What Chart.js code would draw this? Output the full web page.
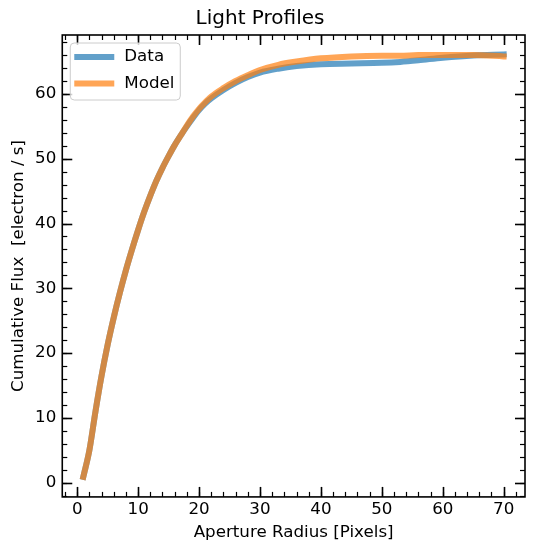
<!DOCTYPE html>
<html>
<head>
<meta charset="utf-8">
<script src="https://cdn.jsdelivr.net/npm/chart.js@4/dist/chart.umd.min.js"></script>
<style>
    html, body { margin: 0; padding: 0; background: #fff; }
    canvas { display: block; }
</style>
</head>
<body>
<canvas id="profileChart" width="534" height="551"></canvas>
<script>
// Aperture radius (pixels) and cumulative flux
const radius = [1, 2, 3, 4, 5, 6, 7, 8, 9, 10, 11, 12, 13, 14, 15, 16, 17, 18, 19, 20,
    21, 22, 24, 26, 28, 30, 33, 36, 40, 45, 50, 53, 56, 60, 65, 70];
const dataFlux = [0.9, 5.0, 11.0, 16.5, 21.3, 25.5, 29.3, 32.8, 36.0, 39.0, 41.8, 44.3, 46.6, 48.6, 50.4, 52.1, 53.6, 55.0, 56.3, 57.5,
    58.5, 59.3, 60.6, 61.7, 62.6, 63.3, 63.9, 64.3, 64.6, 64.7, 64.8, 64.95, 65.2, 65.6, 65.95, 66.1];
const modelFlux = [0.9, 5.0, 11.0, 16.5, 21.3, 25.5, 29.3, 32.8, 36.0, 39.0, 41.8, 44.3, 46.6, 48.6, 50.4, 52.1, 53.6, 55.1, 56.5, 57.7,
    58.7, 59.6, 60.9, 62.0, 62.9, 63.7, 64.5, 65.0, 65.5, 65.8, 65.9, 65.9, 66.0, 66.0, 66.0, 65.8];
const seriesLabels = ['Data', 'Model'];

// tick spacing, matplotlib style
const majorStep = 10;
const minorStep = 2;

Chart.defaults.font.family = "'DejaVu Sans', sans-serif";
Chart.defaults.color = '#000';

// Inward ticks on all four sides plus the box and an in-plot legend
const frameTicks = {
    id: 'frameTicks',
    afterDraw(chart) {
        const { ctx, chartArea: a, scales: { x, y } } = chart;
        ctx.save();
        ctx.strokeStyle = '#000';
        const seg = (x1, y1, x2, y2) => {
            ctx.beginPath();
            ctx.moveTo(x1, y1);
            ctx.lineTo(x2, y2);
            ctx.stroke();
        };
        const tickSet = (scale, step) => {
            const out = [];
            for (let v = Math.ceil(scale.min / step) * step; v <= scale.max; v += step) out.push(v);
            return out;
        };

        [[minorStep, 5, 1.2], [majorStep, 10, 1.6]].forEach(([step, len, w]) => {
            ctx.lineWidth = w;
            tickSet(x, step).forEach(v => {
                const px = Math.round(x.getPixelForValue(v)) + 0.5;
                seg(px, a.bottom, px, a.bottom - len);
                seg(px, a.top, px, a.top + len);
            });
            tickSet(y, step).forEach(v => {
                const py = Math.round(y.getPixelForValue(v)) + 0.5;
                seg(a.left, py, a.left + len, py);
                seg(a.right, py, a.right - len, py);
            });
        });

        ctx.lineWidth = 1.6;
        ctx.strokeRect(a.left, a.top, a.right - a.left, a.bottom - a.top);

        // legend box
        const lx = a.left + 8, ly = a.top + 8, lw = 110, lh = 57;
        ctx.beginPath();
        ctx.roundRect(lx, ly, lw, lh, 4);
        ctx.fillStyle = 'rgba(255,255,255,0.8)';
        ctx.fill();
        ctx.lineWidth = 1;
        ctx.strokeStyle = '#cccccc';
        ctx.stroke();

        ctx.font = "16.7px 'DejaVu Sans'";
        ctx.textBaseline = 'middle';
        chart.data.datasets.forEach((ds, i) => {
            const rowY = ly + 14 + i * 26.5;
            ctx.strokeStyle = ds.borderColor;
            ctx.lineWidth = ds.borderWidth;
            ctx.lineCap = 'butt';
            seg(lx + 4, rowY, lx + 44, rowY);
            ctx.fillStyle = '#000';
            ctx.fillText(ds.label, lx + 54, rowY);
        });
        ctx.restore();
    }
};

const makeSeries = (label, values, color, order) => ({
    label: label,
    data: radius.map((r, i) => ({ x: r, y: values[i] })),
    borderColor: color,
    borderWidth: 6,
    borderCapStyle: 'square',
    borderJoinStyle: 'round',
    cubicInterpolationMode: 'monotone',
    pointRadius: 0,
    fill: false,
    order: order
});

new Chart(document.getElementById('profileChart'), {
    type: 'line',
    data: {
        datasets: [
            makeSeries(seriesLabels[0], dataFlux, 'rgba(31, 119, 180, 0.7)', 1),
            makeSeries(seriesLabels[1], modelFlux, 'rgba(255, 127, 14, 0.7)', 0)
        ]
    },
    options: {
        responsive: false,
        animation: false,
        layout: {
            padding: { left: -5, right: 9, top: 0, bottom: 0 }
        },
        plugins: {
            legend: { display: false },
            tooltip: { enabled: false },
            title: {
                display: true,
                text: 'Light Profiles',
                font: { size: 20, weight: 'normal' },
                color: '#000',
                padding: { top: 7, bottom: 4 }
            }
        },
        scales: {
            x: {
                type: 'linear',
                min: -2.45,
                max: 73.5,
                grid: { display: false, drawTicks: false },
                border: { display: false },
                ticks: {
                    stepSize: majorStep,
                    includeBounds: false,
                    font: { size: 16.7 },
                    color: '#000',
                    padding: 3,
                    maxRotation: 0
                },
                title: {
                    display: true,
                    text: 'Aperture Radius [Pixels]',
                    font: { size: 16.7 },
                    color: '#000',
                    padding: { top: 0, bottom: 8 }
                }
            },
            y: {
                type: 'linear',
                min: -2.2,
                max: 69.1,
                grid: { display: false, drawTicks: false },
                border: { display: false },
                ticks: {
                    stepSize: majorStep,
                    includeBounds: false,
                    font: { size: 16.7 },
                    color: '#000',
                    padding: 6
                },
                title: {
                    display: true,
                    text: 'Cumulative Flux  [electron / s]',
                    font: { size: 16.7 },
                    color: '#000',
                    padding: { top: 14, bottom: 0 }
                }
            }
        }
    },
    plugins: [frameTicks]
});
</script>
</body>
</html>
